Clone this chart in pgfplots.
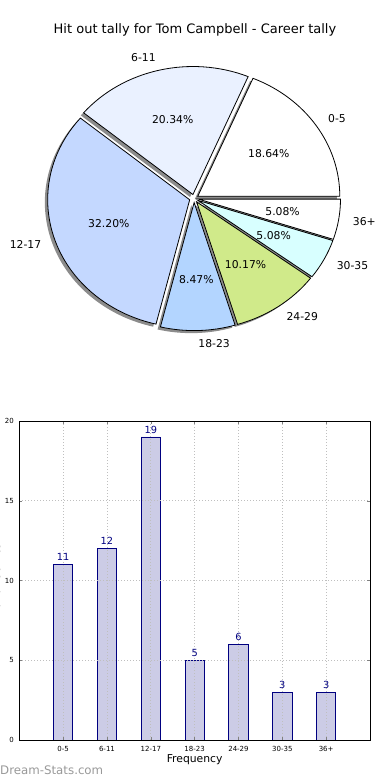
\documentclass[border=0pt]{standalone}
\usepackage{pgfplots}
\pgfplotsset{compat=1.18}
\usepackage{pgfplotstable}
\usepackage{fontspec}
\setmainfont{DejaVu Sans}

\pgfplotstableread{
cat val
0-5 11
6-11 12
12-17 19
18-23 5
24-29 6
30-35 3
36+ 3
}\hitdata

\definecolor{pc0}{HTML}{FFFFFF}
\definecolor{pc1}{HTML}{EAF1FF}
\definecolor{pc2}{HTML}{C4D8FF}
\definecolor{pc3}{HTML}{B3D5FF}
\definecolor{pc4}{HTML}{D0EA8A}
\definecolor{pc5}{HTML}{D8FFFF}
\definecolor{pc6}{HTML}{FFFFFF}
\definecolor{barfill}{HTML}{CCCCE6}
\definecolor{baredge}{HTML}{000080}

\newcommand\labfont{\fontsize{10.8}{13}\selectfont}
\newcommand\titlefont{\fontsize{13}{15}\selectfont}
\newcommand\pv[2]{\csname p#1#2\endcsname}

\def\explode{0.032}
\gdef\pietotal{0}
\pgfplotsforeachungrouped \i in {0,...,6}{%
  \pgfplotstablegetelem{\i}{val}\of\hitdata
  \pgfmathsetmacro\pietmp{\pietotal+\pgfplotsretval}%
  \xdef\pietotal{\pietmp}%
}
\newcommand\pieset[2]{\pgfmathsetmacro\pietmp{#2}\expandafter\xdef\csname p#1\i\endcsname{\pietmp}}
\gdef\piecum{0}
\pgfplotsforeachungrouped \i in {0,...,6}{%
  \pgfplotstablegetelem{\i}{val}\of\hitdata
  \pgfmathsetmacro\pieval{\pgfplotsretval}%
  \pgfmathsetmacro\piea{\piecum}%
  \pgfmathsetmacro\pieb{\piecum+360*\pieval/\pietotal}%
  \pgfmathsetmacro\piem{(\piea+\pieb)/2}%
  \pgfmathsetmacro\piep{100*\pieval/\pietotal}%
  \pieset{sa}{\piea}%
  \pieset{se}{\pieb}%
  \pieset{cx}{\explode*cos(\piem)}%
  \pieset{cy}{\explode*sin(\piem)}%
  \pieset{lx}{(\explode+1.1)*cos(\piem)}%
  \pieset{ly}{(\explode+1.1)*sin(\piem)}%
  \pieset{px}{(\explode+0.6)*cos(\piem)}%
  \pieset{py}{(\explode+0.6)*sin(\piem)}%
  \pgfmathtruncatemacro\pier{cos(\piem)>0}%
  \ifnum\pier=1 \expandafter\xdef\csname panc\i\endcsname{west}\else\expandafter\xdef\csname panc\i\endcsname{east}\fi
  \pgfmathprintnumberto[fixed,fixed zerofill,precision=2,assume math mode=true]{\piep}{\pietmp}%
  \expandafter\global\expandafter\let\csname ppct\i\endcsname\pietmp
  \pgfplotstablegetelem{\i}{cat}\of\hitdata
  \expandafter\global\expandafter\let\csname pcat\i\endcsname\pgfplotsretval
  \xdef\piecum{\pieb}%
}

\begin{document}
\begin{tikzpicture}
\path[use as bounding box] (0pt,0pt) rectangle (390pt,780pt);

% ---------- pie ----------
\begin{axis}[at={(0pt,410pt)}, anchor=south west, scale only axis,
  x=142pt, y=128pt, xmin=-1.36620, xmax=1.38028, ymin=-1.33984, ymax=1.55078,
  hide axis, clip=false, enlargelimits=false]
\pgfplotsinvokeforeach{0,...,6}{
  \fill[black!45] (axis cs:{\pv{cx}{#1}-0.02},{\pv{cy}{#1}-0.02})
    -- (axis cs:{\pv{cx}{#1}-0.02+cos(\pv{sa}{#1})},{\pv{cy}{#1}-0.02+sin(\pv{sa}{#1})})
    arc[start angle=\pv{sa}{#1}, end angle=\pv{se}{#1}, x radius=142pt, y radius=128pt] -- cycle;
}
\pgfplotsinvokeforeach{0,...,6}{
  \draw[fill=pc#1, line width=0.8pt, line join=miter] (axis cs:{\pv{cx}{#1}},{\pv{cy}{#1}})
    -- (axis cs:{\pv{cx}{#1}+cos(\pv{sa}{#1})},{\pv{cy}{#1}+sin(\pv{sa}{#1})})
    arc[start angle=\pv{sa}{#1}, end angle=\pv{se}{#1}, x radius=142pt, y radius=128pt] -- cycle;
}
\pgfplotsinvokeforeach{0,...,6}{
  \node[anchor=\pv{anc}{#1}, inner sep=0pt, font=\labfont] at (axis cs:{\pv{lx}{#1}},{\pv{ly}{#1}}) {\pv{cat}{#1}};
  \node[inner sep=0pt, font=\labfont] at (axis cs:{\pv{px}{#1}},{\pv{py}{#1}}) {\pv{pct}{#1}\%};
}
\node[font=\titlefont, inner sep=0pt] at (axis cs:0.007,1.3203) {Hit out tally for Tom Campbell - Career tally};
\end{axis}

% ---------- bars ----------
\begin{axis}[at={(19.3pt,40pt)}, anchor=south west, scale only axis,
  width=350.7pt, height=319pt,
  xmin=-1, xmax=7, ymin=0, ymax=20,
  ytick={0,5,10,15,20},
  xtick={0,...,6}, xticklabels={0-5,6-11,12-17,18-23,24-29,30-35,36+},
  grid=major, major grid style={black!25, line width=0.8pt, dash pattern=on 1pt off 2pt},
  axis on top, tick align=inside, major tick length=3pt,
  tick style={black!50, line width=0.5pt},
  axis line style={line width=0.8pt},
  /pgf/number format/assume math mode=true,
  ticklabel style={font=\fontsize{7}{8}\selectfont},
  xticklabel style={yshift=-2.5pt},
  yticklabel style={xshift=-2pt},
  xlabel={Frequency}, ylabel={No. of Games},
  label style={font=\labfont},
  xlabel style={at={(axis description cs:0.5,-0.0627)}, anchor=center, inner sep=0pt},
  ylabel style={at={(axis description cs:-0.0660,0.5)}, anchor=center, inner sep=0pt},
  ]
\addplot[ybar, bar width=0.44, fill=barfill, draw=baredge, line width=0.8pt,
  nodes near coords,
  nodes near coords style={font=\fontsize{9.8}{11}\selectfont, text=baredge}]
  table[x expr=\coordindex, y=val]{\hitdata};
\end{axis}

\node[anchor=west, inner sep=0pt, text=black!40, font=\fontsize{11.8}{13}\selectfont] at (0pt,10pt) {Dream-Stats.com};
\end{tikzpicture}
\end{document}
